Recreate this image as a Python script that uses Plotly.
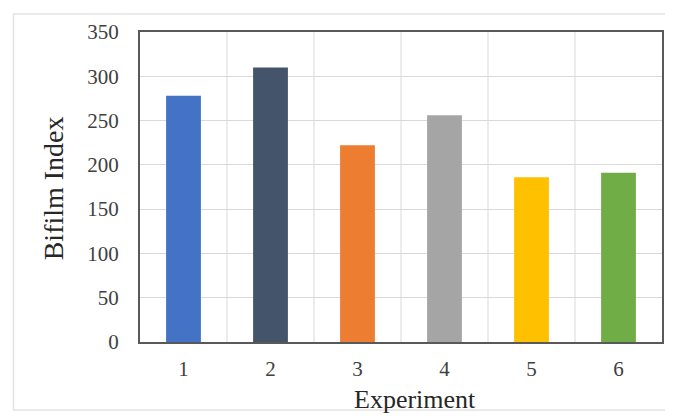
import plotly.graph_objects as go

experiments = ["1", "2", "3", "4", "5", "6"]
bifilm_index = [278, 310, 222, 256, 186, 191]
bar_colors = ["#4472C4", "#44546A", "#ED7D31", "#A5A5A5", "#FFC000", "#70AD47"]
y_ticks = [0, 50, 100, 150, 200, 250, 300, 350]

# page is offset by the 8px default body margin
OFF = 8
W, H = 673 - 2 * OFF, 416 - OFF
L, R, T, B = 132, 1, 24, H - 24 - 310

pw, ph = W - L - R, H - T - B

def px_x(p):
    return (p - OFF - L) / pw

def px_y(p):
    return (H - B - (p - OFF)) / ph

fig = go.Figure()
fig.add_trace(go.Bar(
    x=experiments, y=bifilm_index,
    marker=dict(color=bar_colors, line=dict(width=0)),
    width=0.4,
))

font_family = "Liberation Serif, Times New Roman, serif"
fig.update_layout(
    width=W, height=H,
    margin=dict(l=L, r=R, t=T, b=B),
    paper_bgcolor="white", plot_bgcolor="white",
    showlegend=False,
    font=dict(family=font_family, color="#333333"),
    xaxis=dict(
        type="category",
        showgrid=False,
        ticks="", tickfont=dict(size=21, color="#404040"),
        ticklabelstandoff=7,
        showline=True, linecolor="#595959", linewidth=2, mirror=True,
    ),
    yaxis=dict(
        range=[0, 350], tickvals=y_ticks,
        showgrid=True, gridcolor="#d9d9d9", gridwidth=1,
        ticks="", tickfont=dict(size=21, color="#404040"),
        ticklabelstandoff=15,
        showline=True, linecolor="#595959", linewidth=2, mirror=True,
        zeroline=False,
    ),
)

fig.add_annotation(text="Experiment", xref="paper", yref="paper",
                   x=px_x(416), y=px_y(399), showarrow=False,
                   xanchor="center", yanchor="middle",
                   font=dict(family=font_family, size=26, color="#262626"))
fig.add_annotation(text="Bifilm Index", xref="paper", yref="paper",
                   x=px_x(54), y=px_y(188), showarrow=False, textangle=-90,
                   xanchor="center", yanchor="middle",
                   font=dict(family=font_family, size=28, color="#262626"))

# vertical gridlines between categories
for i in range(1, len(experiments)):
    fig.add_shape(type="line", xref="x", yref="paper",
                  x0=i - 0.5, x1=i - 0.5, y0=0, y1=1,
                  line=dict(color="#d9d9d9", width=1), layer="below")

# outer frame of the chart area
fig.add_shape(type="rect", xref="paper", yref="paper",
              x0=px_x(13), x1=px_x(700), y0=px_y(410), y1=px_y(14),
              line=dict(color="#e3e3e3", width=1.5))

fig.write_html("out.html")
